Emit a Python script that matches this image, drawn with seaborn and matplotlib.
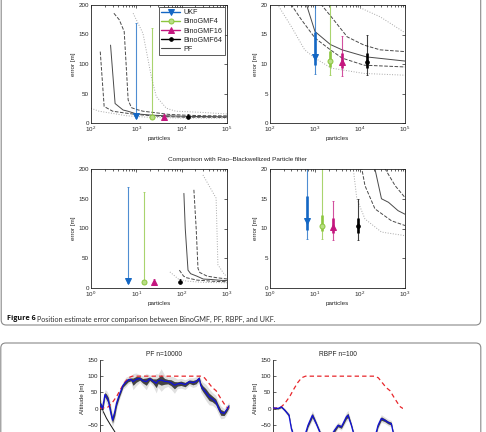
"""
Figure 6 page crop: BinoGMF / UKF error bars against PF and RBPF
error quantiles, plus the top of the altitude-track figure below it.
"""

import matplotlib
matplotlib.use("Agg")
import matplotlib.pyplot as plt
from matplotlib.patches import FancyBboxPatch
from matplotlib.ticker import FixedLocator, LogLocator, NullFormatter
import seaborn as sns

W, H = 486, 432

# ---------------------------------------------------------------
# Error statistics
# ---------------------------------------------------------------
METHODS = ["UKF", "BinoGMF4", "BinoGMF16", "BinoGMF64"]
METHOD_COLORS = ["#1467c4", "#8cc63e", "#c4177f", "#000000"]
METHOD_FACES = ["#1467c4", "#b8de85", "#c4177f", "#000000"]
METHOD_MARKERS = ["v", "o", "^", "o"]
METHOD_SIZES = [4.2, 3.6, 4.2, 2.6]

POS_VS_PF = [1000, 2200, 4000, 14000]
POS_VS_RBPF = [6.5, 14.5, 25, 90]
MEDIAN = [11.2, 10.5, 10.3, 10.4]
Q_LOW = [9.8, 9.5, 9.3, 9.3]
Q_HIGH = [15.5, 12.2, 11.8, 11.8]
P_LOW = [8.3, 8.2, 8.0, 8.1]
P_HIGH = [170, 161, 14.7, 15.0]

# PF error quantile curves (particles, error)
PF_MED_X = [270, 340, 510, 650, 1000, 2200, 4000, 14000, 100000]
PF_MED_Y = [132, 33, 22, 20, 15.5, 13.3, 12.4, 11.2, 10.5]
PF_QHI_X = [320, 420, 540, 600, 660, 780, 1000, 1400, 2300, 5200, 12300, 28000, 100000]
PF_QHI_Y = [186, 175, 155, 95, 39, 26, 23, 20, 18.0, 14.6, 13.2, 12.4, 12.1]
PF_QLO_X = [160, 195, 300, 500, 1000, 2200, 4000, 12300, 100000]
PF_QLO_Y = [121, 28, 20, 17.5, 14.4, 12.4, 11.0, 9.8, 9.5]
PF_PHI_X = [850, 1400, 2150, 2750, 4600, 7400, 28000, 100000]
PF_PHI_Y = [186, 152, 78, 45, 25, 20, 18.0, 15.3]
PF_PLO_X = [100, 150, 300, 590, 1000, 2300, 12300, 100000]
PF_PLO_Y = [25, 20, 16.3, 12.4, 11.0, 9.3, 8.4, 8.1]

# RBPF error quantile curves (particles, error)
RB_MED_X = [112, 120, 138, 158, 215, 300, 430, 700, 1000]
RB_MED_Y = [159, 100, 30, 24, 20, 15.0, 14.4, 13.0, 12.4]
RB_QHI_X = [186, 209, 229, 251, 363, 603, 1000]
RB_QHI_Y = [165, 100, 33, 26, 20, 17.2, 15.2]
RB_QLO_X = [89, 110, 129, 215, 500, 1000]
RB_QLO_Y = [30, 20, 17.2, 13.3, 11.3, 10.5]
RB_PHI_X = [295, 575, 630, 890, 1000]
RB_PHI_Y = [190, 151, 39, 22, 21]
RB_PLO_X = [55, 71, 85, 129, 300, 1000]
RB_PLO_Y = [27, 20, 15.0, 11.6, 9.4, 8.8]

# ---------------------------------------------------------------
# Altitude tracks (second figure, top part only)
# ---------------------------------------------------------------
REF_T = [0, 6, 9, 13, 16, 19, 22, 25, 78, 81, 84, 87, 90, 93, 96, 98, 100]
REF_ALT = [0, 4, 15, 38, 60, 80, 95, 100, 100, 95, 80, 65, 55, 35, 16, 5, 0]

PF_T = [0, 2, 3.8, 5, 6.4, 8.2, 9.7, 11.5, 12.8, 14.9,
        17.9, 20, 21.8, 24, 25.6, 28, 30.8, 33, 35.9, 38.5,
        41, 43.6, 45, 47.4, 50, 52.6, 55, 57.7, 60, 62.8,
        66, 69.2, 72, 74.4, 76.9, 78, 79.5, 82, 84.6, 87,
        89.7, 91.5, 93.6, 96.2, 98, 100]
PF_ALT = [15, 0, 43, 36, 26, -10, -36, -10, 16, 41,
          72, 82, 88, 90, 83, 90, 93, 86, 83, 92,
          85, 78, 86, 88, 84, 83, 80, 72, 76, 78,
          74, 83, 80, 83, 93, 72, 62, 50, 36, 30,
          21, 5, -12, -15, -5, 8]
PF_SPREAD = [15, 20, 15, 20, 20, 25, 20, 25, 20, 15,
             12, 15, 12, 10, 25, 20, 12, 15, 25, 12,
             15, 30, 20, 35, 20, 15, 20, 25, 15, 15,
             15, 12, 15, 15, 12, 20, 20, 25, 25, 20,
             20, 20, 20, 15, 15, 12]
PF_STRAY_T = [2.6, 5, 8, 11.5, 14]
PF_STRAY_ALT = [-10, -30, -50, -72, -95]

RB_T = [0, 3.8, 6.4, 9, 12.3, 14.1, 17, 21, 24, 26.9,
        30.3, 33.3, 35.9, 39, 43, 47.4, 50, 52.6, 56.4, 57.7,
        60.3, 62.8, 66, 72, 78, 80.8, 83.3, 85.9, 88.5, 91,
        92.3, 95]
RB_ALT = [2, 0, 5, -5, -21, -62, -100, -110, -90, -52,
          -21, -47, -72, -100, -95, -67, -52, -57, -26, -21,
          -52, -90, -110, -115, -95, -52, -31, -36, -43, -47,
          -72, -110]
RB_SPREAD = [4, 4, 5, 6, 8, 10, 10, 10, 10, 12,
             15, 10, 10, 10, 10, 12, 10, 10, 14, 15,
             10, 10, 10, 10, 10, 12, 12, 10, 10, 10,
             10, 10]

sns.set_style("white")
plt.rcParams["font.family"] = ["Liberation Sans", "DejaVu Sans"]
plt.rcParams["mathtext.default"] = "regular"

PF_DARK = "#4a4a4a"
PF_LIGHT = "#a8a8a8"


def px_rect(left, top, right, bottom):
    return [left / W, 1 - bottom / H, (right - left) / W, (bottom - top) / H]


def style_error_axes(ax, xlim, ylim, yticks):
    ax.set_xscale("log")
    ax.set_xlim(*xlim)
    ax.set_ylim(*ylim)
    ax.set_yticks(yticks)
    ax.xaxis.set_major_locator(LogLocator(base=10, numticks=10))
    ax.xaxis.set_minor_locator(LogLocator(base=10, subs=range(2, 10), numticks=30))
    ax.xaxis.set_minor_formatter(NullFormatter())
    ax.yaxis.set_minor_locator(FixedLocator([]))
    ax.tick_params(which="both", direction="in", top=True, right=True,
                   labelsize=4.5, pad=1.5, width=0.5, color="#222222")
    ax.tick_params(which="major", length=2.2)
    ax.tick_params(which="minor", length=1.2)
    for s in ax.spines.values():
        s.set_linewidth(0.6)
        s.set_color("#222222")
    ax.set_xlabel("particles", fontsize=4.5, labelpad=1)
    ax.set_ylabel("error [m]", fontsize=4.5, labelpad=2)


def draw_quantiles(ax, curves):
    for (x, y), ls, col in curves:
        sns.lineplot(x=x, y=y, ax=ax, color=col, linestyle=ls, lw=0.7,
                     estimator=None, sort=False)


def draw_methods(ax, xpos, with_labels):
    for i, name in enumerate(METHODS):
        c = METHOD_COLORS[i]
        med = MEDIAN[i]
        ax.errorbar([xpos[i]], [med], yerr=[[med - P_LOW[i]], [P_HIGH[i] - med]],
                    fmt="none", ecolor=c, elinewidth=0.8, capsize=1.0, capthick=0.6,
                    alpha=0.75)
        ax.errorbar([xpos[i]], [med], yerr=[[med - Q_LOW[i]], [Q_HIGH[i] - med]],
                    fmt="none", ecolor=c, elinewidth=1.9, capsize=0)
        ax.plot([xpos[i]], [med], linestyle="-", lw=1.0, color=c,
                marker=METHOD_MARKERS[i], markersize=METHOD_SIZES[i],
                markerfacecolor=METHOD_FACES[i], markeredgecolor=c,
                markeredgewidth=0.7, label=name if with_labels else None,
                zorder=5)


fig = plt.figure(figsize=(W / 100, H / 100), dpi=100)

# page frames
fig.add_artist(FancyBboxPatch((0.012, 1.07), 4.795, 3.5,
                              boxstyle="round,pad=0,rounding_size=0.05",
                              transform=fig.dpi_scale_trans, fill=False,
                              edgecolor="#8a8a8a", lw=0.8))
fig.add_artist(FancyBboxPatch((0.008, -0.5), 4.80, 1.39,
                              boxstyle="round,pad=0,rounding_size=0.05",
                              transform=fig.dpi_scale_trans, fill=False,
                              edgecolor="#8a8a8a", lw=0.8))

pf_curves = [((PF_PHI_X, PF_PHI_Y), ":", PF_LIGHT),
             ((PF_PLO_X, PF_PLO_Y), ":", PF_LIGHT),
             ((PF_QHI_X, PF_QHI_Y), "--", PF_DARK),
             ((PF_QLO_X, PF_QLO_Y), "--", PF_DARK),
             ((PF_MED_X, PF_MED_Y), "-", PF_DARK)]
rb_curves = [((RB_PHI_X, RB_PHI_Y), ":", PF_LIGHT),
             ((RB_PLO_X, RB_PLO_Y), ":", PF_LIGHT),
             ((RB_QHI_X, RB_QHI_Y), "--", PF_DARK),
             ((RB_QLO_X, RB_QLO_Y), "--", PF_DARK),
             ((RB_MED_X, RB_MED_Y), "-", PF_DARK)]

# --- comparison with PF ---
ax_tl = fig.add_axes(px_rect(91, 5, 227, 123))
draw_quantiles(ax_tl, pf_curves)
draw_methods(ax_tl, POS_VS_PF, True)
ax_tl.plot([], [], color=PF_DARK, lw=0.8, label="PF")
style_error_axes(ax_tl, (1e2, 1e5), (0, 200), [0, 50, 100, 150, 200])
leg = ax_tl.legend(loc="upper right", fontsize=5.2, frameon=True, fancybox=False,
                   handlelength=2.6, handletextpad=0.5, labelspacing=0.28,
                   borderpad=0.35, borderaxespad=0.25)
leg.get_frame().set_edgecolor("#111111")
leg.get_frame().set_linewidth(0.6)

ax_tr = fig.add_axes(px_rect(270, 5, 405, 123))
draw_quantiles(ax_tr, pf_curves)
draw_methods(ax_tr, POS_VS_PF, False)
style_error_axes(ax_tr, (1e2, 1e5), (0, 20), [0, 5, 10, 15, 20])

# --- comparison with RBPF ---
ax_bl = fig.add_axes(px_rect(91, 169, 227, 288))
draw_quantiles(ax_bl, rb_curves)
draw_methods(ax_bl, POS_VS_RBPF, False)
style_error_axes(ax_bl, (1e0, 1e3), (0, 200), [0, 50, 100, 150, 200])

ax_br = fig.add_axes(px_rect(270, 169, 405, 288))
draw_quantiles(ax_br, rb_curves)
draw_methods(ax_br, POS_VS_RBPF, False)
style_error_axes(ax_br, (1e0, 1e3), (0, 20), [0, 5, 10, 15, 20])

fig.text(237 / W, 1 - 159 / H, "Comparison with Rao\u2013Blackwellized Particle filter",
         ha="center", va="center", fontsize=4.6, color="#222222")

# caption
fig.text(7 / W, 1 - 319 / H, "Figure 6", ha="left", va="center",
         fontsize=5.2, fontweight="bold", family=["Open Sans", "DejaVu Sans"],
         color="#111111")
fig.text(37 / W, 1 - 319 / H,
         "Position estimate error comparison between BinoGMF, PF, RBPF, and UKF.",
         ha="left", va="center", fontsize=5.2, family=["Lato", "DejaVu Sans"],
         color="#333333")


# --- altitude tracks ---
def draw_track(ax, t, alt, spread, title):
    lo = [a - s for a, s in zip(alt, spread)]
    hi = [a + s for a, s in zip(alt, spread)]
    lo_in = [a - s * 0.45 for a, s in zip(alt, spread)]
    hi_in = [a + s * 0.45 for a, s in zip(alt, spread)]
    ax.fill_between(t, lo, hi, color="#000000", alpha=0.12, lw=0)
    ax.fill_between(t, lo_in, hi_in, color="#000000", alpha=0.7, lw=0)
    sns.lineplot(x=REF_T, y=REF_ALT, ax=ax, color="#e8262b", lw=0.9,
                 linestyle=(0, (3.5, 2.5)), estimator=None, sort=False, zorder=4)
    sns.lineplot(x=t, y=alt, ax=ax, color="#1010d8", lw=0.9,
                 estimator=None, sort=False, zorder=5)
    ax.set_xlim(0, 100)
    ax.set_ylim(-150, 150)
    ax.set_yticks([-50, 0, 50, 100, 150])
    ax.set_xticks([])
    for side in ["top", "right", "bottom"]:
        ax.spines[side].set_visible(False)
    ax.spines["left"].set_linewidth(0.6)
    ax.spines["left"].set_color("#222222")
    ax.tick_params(axis="y", direction="in", left=True, length=2, width=0.5,
                   labelsize=4.5, pad=1.5)
    ax.set_ylabel("Altitude [m]", fontsize=4.5, labelpad=2, y=0.6)
    ax.set_title(title, fontsize=4.8, pad=3, color="#222222")


ax_pf = fig.add_axes(px_rect(100, 360, 229, 457))
draw_track(ax_pf, PF_T, PF_ALT, PF_SPREAD, "PF n=10000")
sns.lineplot(x=PF_STRAY_T, y=PF_STRAY_ALT, ax=ax_pf, color="#111111", lw=0.7,
             estimator=None, sort=False)

ax_rb = fig.add_axes(px_rect(273, 360, 403, 457))
draw_track(ax_rb, RB_T, RB_ALT, RB_SPREAD, "RBPF n=100")

fig.savefig("out.png", dpi=100)
plt.close(fig)
